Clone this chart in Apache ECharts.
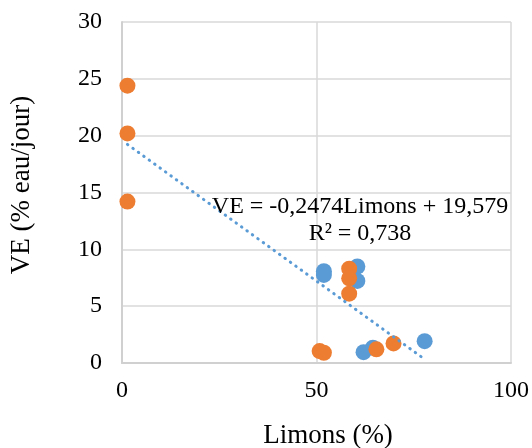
<!DOCTYPE html>
<html>
<head>
<meta charset="utf-8">
<script src="https://cdn.jsdelivr.net/npm/echarts@6/dist/echarts.min.js"></script>
<style>html,body{margin:0;padding:0;background:#fff}#c{width:532px;height:448px}</style>
</head>
<body>
<div id="c"></div>
<script>
// Data
var blueX = [51.9, 51.9, 60.5, 60.5, 62.1, 64.5, 77.8];
var blueY = [8.08, 7.75, 8.49, 7.22, 0.95, 1.35, 1.92];
var orangeX = [1.4, 1.4, 1.4, 58.4, 58.4, 58.4, 50.8, 51.9, 65.4, 69.8];
var orangeY = [24.4, 20.2, 14.2, 8.3, 7.45, 6.1, 1.05, 0.9, 1.2, 1.72];
// Trendline as displayed in the chart
var trendSlope = -0.2474;
var trendIntercept = 19.579;
var trendR2 = 0.738;
var trendRange = [1.4, 77.8];
var xTicks = [0, 50, 100];
var yTicks = [0, 5, 10, 15, 20, 25, 30];
var xTitle = 'Limons (%)';
var yTitle = 'VE (% eau/jour)';
var eqLine1 = 'VE = -0,2474Limons + 19,579';
var eqLine2 = 'R² = 0,738';

var FONT = '"Liberation Serif", "Times New Roman", serif';
function pairs(xs, ys){ return xs.map(function(x,i){ return [x, ys[i]]; }); }
var trendData = trendRange.map(function(x){ return [x, trendSlope * x + trendIntercept]; });

var chart = echarts.init(document.getElementById('c'), null, {renderer:'canvas'});
chart.setOption({
  animation: false,
  backgroundColor: '#fff',
  grid: {left: 122, right: 21, top: 22, bottom: 85, outerBoundsMode: 'none', containLabel: false},
  xAxis: {
    type: 'value', min: xTicks[0], max: xTicks[xTicks.length-1], interval: 50,
    axisLine: {show: true, lineStyle: {color: '#D0D0D0', width: 2}},
    axisTick: {show: false},
    splitLine: {show: true, lineStyle: {color: '#D9D9D9', width: 1.5}},
    axisLabel: {color: '#000', fontFamily: FONT, fontSize: 24, margin: 16}
  },
  yAxis: {
    type: 'value', min: yTicks[0], max: yTicks[yTicks.length-1], interval: 5,
    axisLine: {show: true, lineStyle: {color: '#D0D0D0', width: 2}},
    axisTick: {show: false},
    splitLine: {show: true, lineStyle: {color: '#D9D9D9', width: 1.5}},
    axisLabel: {color: '#000', fontFamily: FONT, fontSize: 24, margin: 20}
  },
  graphic: [
    {type: 'text', x: 22, y: 185, rotation: Math.PI/2,
     style: {text: yTitle, font: '27px ' + FONT, fill: '#000', textAlign: 'center', textVerticalAlign: 'middle'}},
    {type: 'text', x: 328, y: 436,
     style: {text: xTitle, font: '27px ' + FONT, fill: '#000', textAlign: 'center', textVerticalAlign: 'middle'}},
    {type: 'text', x: 360, y: 207, z: 100,
     style: {text: eqLine1, font: '24px ' + FONT, fill: '#000', textAlign: 'center', textVerticalAlign: 'middle'}},
    {type: 'text', x: 360, y: 234, z: 100,
     style: {text: eqLine2, font: '24px ' + FONT, fill: '#000', textAlign: 'center', textVerticalAlign: 'middle'}}
  ],
  series: [
    {type: 'scatter', data: pairs(blueX, blueY), symbolSize: 16, itemStyle: {color: '#5B9BD5', opacity: 1}, z: 2},
    {type: 'scatter', data: pairs(orangeX, orangeY), symbolSize: 16, itemStyle: {color: '#ED7D31', opacity: 1}, z: 3},
    {type: 'line', data: trendData, symbol: 'none', silent: true, z: 4,
     lineStyle: {color: '#5B9BD5', width: 3, type: [0.5, 6.2], cap: 'round'}}
  ]
});
</script>
</body>
</html>
